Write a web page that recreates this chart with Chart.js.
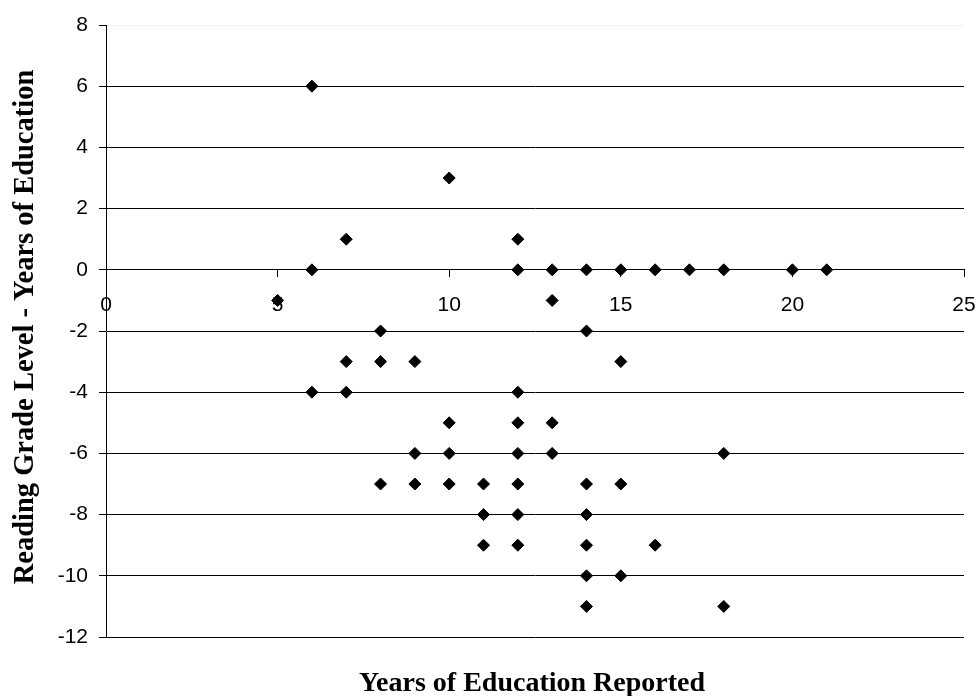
<!DOCTYPE html>
<html>
<head>
<meta charset="utf-8">
<script src="https://cdn.jsdelivr.net/npm/chart.js@4/dist/chart.umd.min.js"></script>
<style>
  html, body { margin: 0; padding: 0; background: #fff; }
  #wrap { width: 977px; height: 696px; position: relative; }
</style>
</head>
<body>
<div id="wrap"><canvas id="c" width="977" height="696"></canvas></div>
<script>
// Years of education reported (x) and reading grade level minus years of education (y)
const yearsEducation = [6, 10, 7, 12, 6, 12, 13, 14, 15, 16, 17, 18, 20, 21, 5, 13, 8, 14, 7, 8, 9, 15, 6, 7, 12, 10, 12, 13, 9, 10, 12, 13, 18, 8, 9, 10, 11, 12, 14, 15, 11, 12, 14, 11, 12, 14, 16, 14, 15, 14, 18];
const gradeDiff      = [6, 3, 1, 1, 0, 0, 0, 0, 0, 0, 0, 0, 0, 0, -1, -1, -2, -2, -3, -3, -3, -3, -4, -4, -4, -5, -5, -5, -6, -6, -6, -6, -6, -7, -7, -7, -7, -7, -7, -7, -8, -8, -8, -9, -9, -9, -9, -10, -10, -11, -11];
const xTicks = [0, 5, 10, 15, 20, 25];
const yTicks = [8, 6, 4, 2, 0, -2, -4, -6, -8, -10, -12];
const xTitle = 'Years of Education Reported';
const yTitle = 'Reading Grade Level - Years of Education';

const points = yearsEducation.map((x, i) => ({ x: x, y: gradeDiff[i] }));

const titlePlugin = {
  id: 'titles',
  afterDraw(chart) {
    const ctx = chart.ctx;
    const a = chart.chartArea;
    ctx.save();
    ctx.fillStyle = '#000';
    ctx.textAlign = 'center';
    ctx.textBaseline = 'alphabetic';
    ctx.font = 'bold 28px "Liberation Serif", "Times New Roman", serif';
    ctx.fillText(xTitle, (a.left + a.right) / 2 - 3, 691);
    ctx.font = 'bold 28.5px "Liberation Serif", "Times New Roman", serif';
    ctx.translate(33, 327);
    ctx.rotate(-Math.PI / 2);
    ctx.fillText(yTitle, 0, 0);
    ctx.restore();
  }
};

new Chart(document.getElementById('c'), {
  type: 'scatter',
  data: {
    datasets: [{
      data: points,
      pointStyle: 'rectRot',
      pointRadius: 6,
      pointHoverRadius: 6,
      backgroundColor: '#000',
      borderColor: '#000',
      borderWidth: 1
    }]
  },
  options: {
    responsive: false,
    animation: false,
    events: [],
    layout: { padding: { left: 0, right: 13, top: 25, bottom: 59 } },
    plugins: { legend: { display: false }, tooltip: { enabled: false } },
    scales: {
      x: {
        type: 'linear',
        position: { y: 0 },
        min: 0, max: 25,
        afterBuildTicks(scale) { scale.ticks = xTicks.map(v => ({ value: v })); },
        afterFit(scale) { scale.height = 0; scale.paddingLeft = 0; scale.paddingRight = 0; },
        grid: { drawOnChartArea: false, drawTicks: true, tickLength: 7, tickColor: '#000', lineWidth: 1 },
        border: { display: true, color: '#000', width: 1 },
        ticks: { color: '#000', padding: 16, font: { family: '"Liberation Sans", Arial, sans-serif', size: 21 }, maxRotation: 0 }
      },
      y: {
        type: 'linear',
        min: -12, max: 8,
        afterBuildTicks(scale) { scale.ticks = yTicks.map(v => ({ value: v })); },
        afterFit(scale) { scale.width = 106; scale.paddingTop = 0; scale.paddingBottom = 0; },
        grid: {
          color: ctx => (ctx.tick && ctx.tick.value === 8) ? '#eeeeee' : '#000',
          lineWidth: 1, tickLength: 7, tickColor: '#000'
        },
        border: { display: true, color: '#000', width: 1 },
        ticks: { color: '#000', padding: 11, font: { family: '"Liberation Sans", Arial, sans-serif', size: 21 } }
      }
    }
  },
  plugins: [titlePlugin]
});
</script>
</body>
</html>
